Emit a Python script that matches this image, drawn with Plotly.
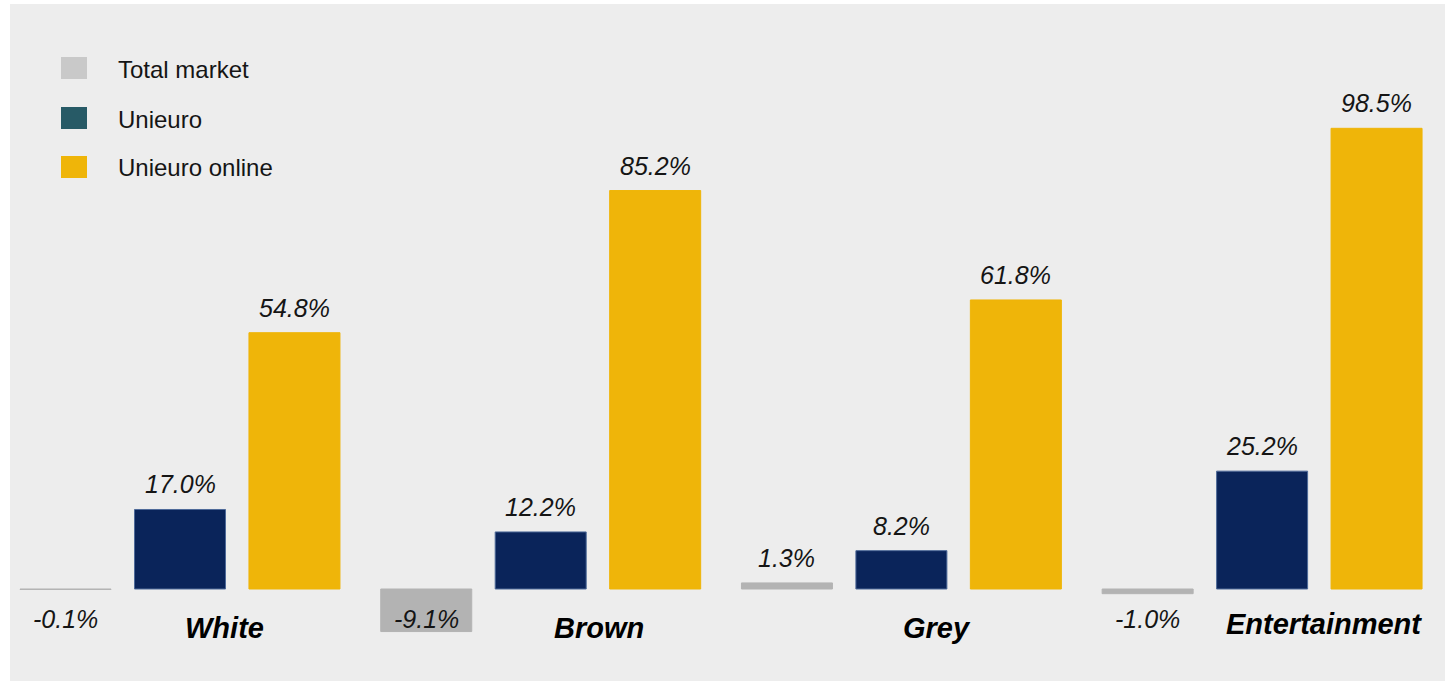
import plotly.graph_objects as go

# ---------------- data ----------------
categories = ["White", "Brown", "Grey", "Entertainment"]
series_names = ["Total market", "Unieuro", "Unieuro online"]
total_market = [-0.1, -9.1, 1.3, -1.0]
unieuro = [17.0, 12.2, 8.2, 25.2]
unieuro_online = [54.8, 85.2, 61.8, 98.5]
series_values = [total_market, unieuro, unieuro_online]

# ---------------- style ----------------
bar_colors = ["#B3B3B3", "#0A245A", "#EFB509"]
bar_line_colors = ["#B3B3B3", "#4E6A99", "#EFB509"]
legend_colors = ["#C9C9C9", "#275A66", "#EFB509"]
BG = "#EDEDED"
FONT = "Liberation Sans, Arial, sans-serif"
TXT = "#151515"
BARGAP = 0.048
BARGROUPGAP = 0.205
W, H = 1453, 682
ML, MR, MT, MB = 10, 8, 4, 1
cat_label_dx = [44, 58, 36, 62]
cat_label_dy = [-39, -39, -39, -35]

fig = go.Figure()
for name, vals, col, lcol in zip(series_names, series_values, bar_colors, bar_line_colors):
    fig.add_trace(go.Bar(
        x=categories, y=vals, name=name,
        marker=dict(color=col, line=dict(color=lcol, width=1)),
        showlegend=False, hoverinfo="x+y+name",
    ))

slot = (1 - BARGAP) / 3
annotations = []
for j, vals in enumerate(series_values):
    for i, v in enumerate(vals):
        xpos = i + (j - 1) * slot
        if v >= 0:
            annotations.append(dict(x=xpos, y=v, xref="x", yref="y", text=f"{v:.1f}%",
                                    showarrow=False, yanchor="middle", yshift=25,
                                    font=dict(family=FONT, size=25, color=TXT, style="italic")))
        else:
            annotations.append(dict(x=xpos, y=0, xref="x", yref="y", text=f"{v:.1f}%",
                                    showarrow=False, yanchor="middle", yshift=-30,
                                    font=dict(family=FONT, size=25, color=TXT, style="italic")))

for i, c in enumerate(categories):
    annotations.append(dict(x=i, y=0, xref="x", yref="y", text=c, showarrow=False,
                            yanchor="middle", xshift=cat_label_dx[i], yshift=cat_label_dy[i],
                            font=dict(family=FONT, size=29, color="#000000",
                                      style="italic", weight="bold")))

# custom legend (large square swatches)
pw = W - ML - MR
ph = H - MT - MB
def px(x):
    return (x - ML) / pw
def py(y):
    return (H - MB - y) / ph

shapes = []
legend_rows = [68, 118, 167]
for name, col, yc in zip(series_names, legend_colors, legend_rows):
    shapes.append(dict(type="rect", xref="paper", yref="paper",
                       x0=px(61), x1=px(87), y0=py(yc + 11), y1=py(yc - 11),
                       fillcolor=col, line=dict(width=0)))
    annotations.append(dict(x=px(116), y=py(yc + 1), xref="paper", yref="paper",
                            text=name, showarrow=False, xanchor="left", yanchor="middle",
                            font=dict(family=FONT, size=24, color=TXT)))

# axis ranges chosen so category centres / zero line sit where the reference has them
x0 = -(180 - ML) / 360.7
x1 = x0 + pw / 360.7
ppu = 4.677
y_top = (589 - MT) / ppu
y_bot = -(H - MB - 589) / ppu

fig.update_layout(
    width=W, height=H,
    margin=dict(l=ML, r=MR, t=MT, b=MB),
    paper_bgcolor="white", plot_bgcolor=BG,
    barmode="group", bargap=BARGAP, bargroupgap=BARGROUPGAP,
    xaxis=dict(type="category", range=[x0, x1], visible=False, showgrid=False, zeroline=False),
    yaxis=dict(range=[y_bot, y_top], visible=False, showgrid=False, zeroline=False),
    annotations=annotations, shapes=shapes,
    showlegend=False,
)

fig.write_html("out.html")
